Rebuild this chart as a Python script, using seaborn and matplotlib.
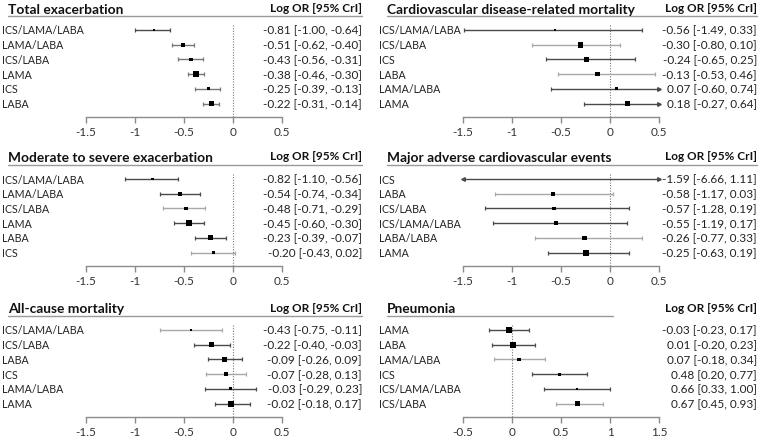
import numpy as np
import pandas as pd
import matplotlib
matplotlib.use("Agg")
import matplotlib.pyplot as plt
from matplotlib.lines import Line2D
import seaborn as sns

sns.set_style("white")
plt.rcParams['font.family'] = ['Lato', 'DejaVu Sans']
plt.rcParams['axes.unicode_minus'] = False

# ---------------- data ----------------
tot_title = "Total exacerbation"
tot_labels = ["ICS/LAMA/LABA", "LAMA/LABA", "ICS/LABA", "LAMA", "ICS", "LABA"]
tot_est = [-0.81, -0.51, -0.43, -0.38, -0.25, -0.22]
tot_lo = [-1.00, -0.62, -0.56, -0.46, -0.39, -0.31]
tot_hi = [-0.64, -0.40, -0.31, -0.30, -0.13, -0.14]

cvd_title = "Cardiovascular disease-related mortality"
cvd_labels = ["ICS/LAMA/LABA", "ICS/LABA", "ICS", "LABA", "LAMA/LABA", "LAMA"]
cvd_est = [-0.56, -0.30, -0.24, -0.13, 0.07, 0.18]
cvd_lo = [-1.49, -0.80, -0.65, -0.53, -0.60, -0.27]
cvd_hi = [0.33, 0.10, 0.25, 0.46, 0.74, 0.64]

mod_title = "Moderate to severe exacerbation"
mod_labels = ["ICS/LAMA/LABA", "LAMA/LABA", "ICS/LABA", "LAMA", "LABA", "ICS"]
mod_est = [-0.82, -0.54, -0.48, -0.45, -0.23, -0.20]
mod_lo = [-1.10, -0.74, -0.71, -0.60, -0.39, -0.43]
mod_hi = [-0.56, -0.34, -0.29, -0.30, -0.07, 0.02]

mace_title = "Major adverse cardiovascular events"
mace_labels = ["ICS", "LABA", "ICS/LABA", "ICS/LAMA/LABA", "LABA/LABA", "LAMA"]
mace_est = [-1.59, -0.58, -0.57, -0.55, -0.26, -0.25]
mace_lo = [-6.66, -1.17, -1.28, -1.19, -0.77, -0.63]
mace_hi = [1.11, 0.03, 0.19, 0.17, 0.33, 0.19]

acm_title = "All-cause mortality"
acm_labels = ["ICS/LAMA/LABA", "ICS/LABA", "LABA", "ICS", "LAMA/LABA", "LAMA"]
acm_est = [-0.43, -0.22, -0.09, -0.07, -0.03, -0.02]
acm_lo = [-0.75, -0.40, -0.26, -0.28, -0.29, -0.18]
acm_hi = [-0.11, -0.03, 0.09, 0.13, 0.23, 0.17]

pn_title = "Pneumonia"
pn_labels = ["LAMA", "LABA", "LAMA/LABA", "ICS", "ICS/LAMA/LABA", "ICS/LABA"]
pn_est = [-0.03, 0.01, 0.07, 0.48, 0.66, 0.67]
pn_lo = [-0.23, -0.20, -0.18, 0.20, 0.33, 0.45]
pn_hi = [0.17, 0.23, 0.34, 0.77, 1.00, 0.93]

ticks_a = [-1.5, -1, -0.5, 0, 0.5]
tick_labels_a = ["-1.5", "-1", "-0.5", "0", "0.5"]
ticks_b = [-0.5, 0, 0.5, 1, 1.5]
tick_labels_b = ["-0.5", "0", "0.5", "1", "1.5"]

header = "Log OR [95% CrI]"

# ---------------- styles (marker side in px, whisker shade) ----------------
D, M, L = "#4a4a4a", "#777777", "#a8a8a8"
tot_sz = [2.2, 4.2, 3.4, 5.5, 3.0, 5.6]
tot_col = [D, M, M, M, M, M]
cvd_sz = [2.0, 5.6, 5.0, 4.5, 3.0, 5.0]
cvd_col = [D, L, D, L, D, D]
mod_sz = [2.4, 3.6, 3.6, 6.0, 5.0, 3.0]
mod_col = [D, D, L, D, D, L]
mace_sz = [2.0, 4.2, 3.6, 3.6, 4.6, 6.0]
mace_col = [D, L, D, D, L, D]
acm_sz = [2.4, 5.0, 5.0, 4.6, 3.0, 6.0]
acm_col = [L, D, D, L, D, D]
pn_sz = [6.0, 5.6, 3.6, 3.0, 2.0, 4.6]
pn_col = [D, D, L, D, D, L]

panels = [
    (tot_title, tot_labels, tot_est, tot_lo, tot_hi, ticks_a, tick_labels_a, tot_sz, tot_col, 0, 0),
    (cvd_title, cvd_labels, cvd_est, cvd_lo, cvd_hi, ticks_a, tick_labels_a, cvd_sz, cvd_col, 1, 0),
    (mod_title, mod_labels, mod_est, mod_lo, mod_hi, ticks_a, tick_labels_a, mod_sz, mod_col, 0, 1),
    (mace_title, mace_labels, mace_est, mace_lo, mace_hi, ticks_a, tick_labels_a, mace_sz, mace_col, 1, 1),
    (acm_title, acm_labels, acm_est, acm_lo, acm_hi, ticks_a, tick_labels_a, acm_sz, acm_col, 0, 2),
    (pn_title, pn_labels, pn_est, pn_lo, pn_hi, ticks_b, tick_labels_b, pn_sz, pn_col, 1, 2),
]

W, H = 760, 439
fig = plt.figure(figsize=(7.6, 4.39), dpi=100)


def fx(x):
    return x / W


def fy(y):
    return 1 - y / H


STEP = 14.7
ROW_Y0 = [31, 180, 331]
AX_L = [86, 463]
AX_R = [282, 659]
LABEL_X = [2, 379]
TITLE_X = [8, 387]
RIGHT_X = [362, 757]

for (title, labels, est, lo, hi, ticks, tlabels, sz, cols, c, r) in panels:
    y0 = ROW_Y0[r]
    axis_y = y0 + 87
    top_y = y0 - 8
    ax = fig.add_axes([fx(AX_L[c]), fy(axis_y), (AX_R[c] - AX_L[c]) / W, (axis_y - top_y) / H])
    xmin, xmax = ticks[0], ticks[-1]
    n = len(labels)
    pos = np.arange(n)

    # zero reference line
    ax.plot([0, 0], [-5 / STEP, 87 / STEP], color="#777777", lw=0.8,
            linestyle=(0, (1, 1.4)), zorder=1)

    # credible intervals
    for i in range(n):
        a = max(lo[i], xmin)
        b = min(hi[i], xmax)
        ax.plot([a, b], [i, i], color=cols[i], lw=1.0, zorder=2, solid_capstyle="butt")
        if lo[i] >= xmin:
            ax.plot([lo[i]], [i], marker="|", ms=3.2, mew=0.9, color=cols[i], zorder=2)
        else:
            ax.plot([xmin], [i], marker="<", ms=2.6, color=D, mec=D, zorder=2, clip_on=False)
        if hi[i] <= xmax:
            ax.plot([hi[i]], [i], marker="|", ms=3.2, mew=0.9, color=cols[i], zorder=2)
        else:
            ax.plot([xmax], [i], marker=">", ms=2.6, color=D, mec=D, zorder=2, clip_on=False)

    df = pd.DataFrame({"est": est, "pos": pos})
    sns.scatterplot(data=df, x="est", y="pos", marker="s",
                    s=[(v * 0.72) ** 2 for v in sz], color="black",
                    edgecolor="none", linewidth=0, legend=False, ax=ax, zorder=3)

    ax.set_xlim(xmin, xmax)
    ax.set_ylim(87 / STEP, -8 / STEP)
    ax.set_xlabel("")
    ax.set_ylabel("")
    ax.set_yticks([])
    ax.set_xticks(ticks)
    ax.set_xticklabels(tlabels)
    for s in ["left", "top", "right"]:
        ax.spines[s].set_visible(False)
    ax.spines["bottom"].set_color("#8c8c8c")
    ax.spines["bottom"].set_linewidth(1.0)
    ax.tick_params(axis="x", bottom=True, direction="out", length=4, width=1,
                   color="#8c8c8c", labelsize=8.5, labelcolor="#333333", pad=2.5)
    ax.patch.set_alpha(0)

    # texts
    for i in range(n):
        yy = y0 + i * STEP
        fig.text(fx(LABEL_X[c]), fy(yy), labels[i], ha="left", va="center",
                 fontsize=7.7, color="#222222")
        fig.text(fx(RIGHT_X[c]), fy(yy), f"{est[i]:.2f} [{lo[i]:.2f}, {hi[i]:.2f}]",
                 ha="right", va="center", fontsize=8.5, color="#222222")
    fig.text(fx(TITLE_X[c]), fy(y0 - 17.5), title, ha="left", va="baseline",
             fontsize=9.9, fontweight="bold", color="#111111")
    fig.text(fx(RIGHT_X[c]), fy(y0 - 19.5), header, ha="right", va="baseline",
             fontsize=8.5, fontweight="bold", color="#111111")
    ul_end = RIGHT_X[c] if title != pn_title else 613
    fig.add_artist(Line2D([fx(TITLE_X[c]), fx(ul_end)], [fy(y0 - 14)] * 2,
                          color="#9a9a9a", lw=1.0))

fig.savefig("out.png", dpi=100)
